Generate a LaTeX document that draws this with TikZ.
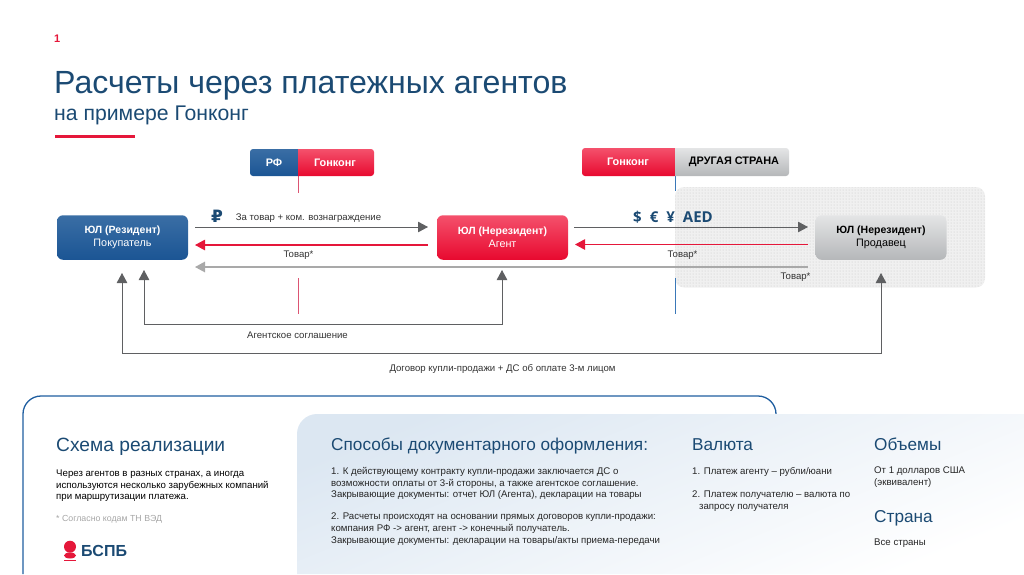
\documentclass[tikz,border=0pt]{standalone}
\usepackage{fontspec}
\setmainfont{Liberation Sans}
\newfontfamily\symfont{DejaVu Sans}
\newfontfamily\curfont{Open Sans}
\usetikzlibrary{arrows.meta,patterns}
\definecolor{navy}{HTML}{1B4A73}
\definecolor{darkarrow}{HTML}{5F6062}
\definecolor{redarrow}{HTML}{E5173A}
\definecolor{greyarrow}{HTML}{A9A9A9}
\definecolor{bluetop}{HTML}{3A6EA5}
\definecolor{bluebot}{HTML}{1B5594}
\definecolor{redtop}{HTML}{F4516C}
\definecolor{redbot}{HTML}{E8092F}
\definecolor{greytop}{HTML}{E4E5E6}
\definecolor{greybot}{HTML}{B5B7B9}
\definecolor{bodytext}{HTML}{333333}
\definecolor{panelblue}{HTML}{DCE7F2}
\definecolor{borderblue}{HTML}{1F5EA0}
\definecolor{splitred}{HTML}{DC5573}
\definecolor{splitblue}{HTML}{3A78B8}
\newcommand{\partyhead}[1]{{\fontsize{10.5}{13}\bfseries\selectfont #1}}
\tikzset{
  bluefill/.style={top color=bluetop,bottom color=bluebot},
  redfill/.style={top color=redtop,bottom color=redbot},
  greyfill/.style={top color=greytop,bottom color=greybot},
  party/.style={rounded corners=6pt,minimum width=131pt,minimum height=44.5pt,inner sep=0pt,align=center,font=\fontsize{10.8}{13}\selectfont},
  head/.style={font=\fontsize{10.9}{12}\bfseries\selectfont,inner sep=0pt},
  lab/.style={font=\fontsize{9.6}{11}\selectfont,text=bodytext,inner sep=0pt},
  tip/.style={-{Triangle[length=10pt,width=10.5pt]}},
  arrowdark/.style={draw=darkarrow,line width=0.9pt,tip},
  arrowred/.style={draw=redarrow,line width=1.1pt,tip},
  arrowgrey/.style={draw=greyarrow,line width=1.3pt,tip},
  heading/.style={font=\fontsize{17.2}{21}\selectfont,text=navy,anchor=base west,inner sep=0pt},
  para/.style={font=\fontsize{9.65}{11.8}\selectfont,text=black!85,anchor=north west,inner sep=0pt,align=left},
}
\begin{document}
\begin{tikzpicture}[x=1pt,y=-1pt]
\useasboundingbox (0,0) rectangle (1024,574);
% title block
\node[anchor=base west,inner sep=0pt,text=redarrow,font=\fontsize{11}{13}\bfseries\selectfont] (num) at (54,42) {1};
\node[anchor=base west,inner sep=0pt,text=navy,font=\fontsize{32.1}{36}\selectfont] (title) at (54,93) {Расчеты через платежных агентов};
\node[anchor=base west,inner sep=0pt,text=navy,font=\fontsize{21.2}{24}\selectfont] (subtitle) at (54,120) {на примере Гонконг};
\fill[redarrow] (55,135) rectangle (135,138);
% dotted zone
\fill[white!94!black,rounded corners=9pt] (675,187) rectangle (985,287.5);
\fill[pattern=dots,pattern color=black!22,rounded corners=9pt] (675,187) rectangle (985,287.5);
% border lines
\draw[splitred,line width=1pt] (298,176) -- (298,193);
\draw[splitred,line width=1pt] (298,278) -- (298,314);
\draw[splitblue,line width=1pt] (675,176) -- (675,191);
\draw[splitblue,line width=1pt] (675,278) -- (675,314);
% header pills
\shade[bluefill] (298,149) [rounded corners=3pt] -- (250,149) -- (250,176) [sharp corners] -- (298,176) -- cycle;
\shade[redfill] (298,149) [rounded corners=3pt] -- (374,149) -- (374,176) [sharp corners] -- (298,176) -- cycle;
\node[head,text=white] (hrf) at (274,163) {РФ};
\node[head,text=white] (hhk) at (335,163) {Гонконг};
\shade[redfill] (675,148) [rounded corners=3pt] -- (582,148) -- (582,176) [sharp corners] -- (675,176) -- cycle;
\shade[greyfill] (675,148) [rounded corners=3pt] -- (789,148) -- (789,176) [sharp corners] -- (675,176) -- cycle;
\node[head,text=white] (hhk2) at (628,162) {Гонконг};
\node[head,text=black] (hother) at (734,162) {ДРУГАЯ СТРАНА};
% parties
\node[party,bluefill,text=white] (buyer) at (122.5,237.5) {\partyhead{ЮЛ (Резидент)}\\Покупатель};
\node[party,redfill,text=white] (agent) at (502.5,237.5) {\partyhead{ЮЛ (Нерезидент)}\\Агент};
\node[party,greyfill,text=black] (seller) at (881,237.5) {\partyhead{ЮЛ (Нерезидент)}\\Продавец};
% connector ends
\coordinate (b1) at (195,227); \coordinate (a1) at (428,227);
\coordinate (b2) at (195,245); \coordinate (a2) at (428,245);
\coordinate (b3) at (195,267); \coordinate (s3) at (808,267);
\coordinate (a4) at (574,227); \coordinate (s4) at (808,227);
\coordinate (a5) at (575,244.5); \coordinate (s5) at (808,244.5);
\draw[arrowdark] (b1) -- (a1);
\draw[arrowred] (a2) -- (b2);
\draw[arrowgrey] (s3) -- (b3);
\draw[arrowdark] (a4) -- (s4);
\draw[arrowred] (s5) -- (a5);
\coordinate (agb) at (144,270); \coordinate (aga) at (502,270);
\coordinate (ag1) at (502,324); \coordinate (ag2) at (144,324);
\coordinate (kb) at (122,273); \coordinate (ks) at (881,273);
\coordinate (k1) at (881,353); \coordinate (k2) at (122,353);
\draw[arrowdark,{Triangle[length=10pt,width=10.5pt]}-{Triangle[length=10pt,width=10.5pt]}] (agb) -- (ag2) -- (ag1) -- (aga);
\draw[arrowdark,{Triangle[length=10pt,width=10.5pt]}-{Triangle[length=10pt,width=10.5pt]}] (kb) -- (k2) -- (k1) -- (ks);
% labels
\node[inner sep=0pt,text=navy,font=\symfont\fontsize{17}{18}\bfseries\selectfont] (rub) at (217,216) {₽};
\node[lab] (l1) at (308.5,218) {За товар + ком. вознаграждение};
\node[lab] (l2) at (298.5,255) {Товар*};
\node[lab] (l3) at (297.5,335.5) {Агентское соглашение};
\node[lab] (l4) at (502.5,368.5) {Договор купли-продажи + ДС об оплате 3-м лицом};
\node[inner sep=0pt,text=navy,font=\curfont\fontsize{15}{18}\bfseries\selectfont] (cur) at (673,217) {\$\hspace{8pt}€\hspace{8pt}¥\hspace{8pt}AED};
\node[lab] (l5) at (682.5,255) {Товар*};
\node[lab] (l6) at (795.5,277.5) {Товар*};
% lower panel
\draw[borderblue,line width=1.3pt,rounded corners=18pt] (23,574) -- (23,396) -- (776,396) -- (776,414.5);
\shade[shading=axis,top color=panelblue,bottom color=white,shading angle=22] (297,574) [rounded corners=20pt] -- (297,414) [sharp corners] -- (1024,414) -- (1024,574) -- cycle;
\node[heading,font=\fontsize{19.2}{22}\selectfont] (h1) at (56,451.5) {Схема реализации};
\node[para,text=black] (p1) at (56,469.5) {Через агентов в разных странах, а иногда\\используются несколько зарубежных компаний\\при маршрутизации платежа.};
\node[para,text=black!35,font=\fontsize{8.8}{11}\selectfont] (p2) at (56,515.5) {* Согласно кодам ТН ВЭД};
\fill[redarrow] (70,546.7) circle (6);
\fill[redarrow] (70,555.5) ellipse (6 and 3);
\fill[redarrow] (64,559.5) rectangle (76,561);
\node[anchor=base west,inner sep=0pt,text=navy,font=\fontsize{16}{18}\bfseries\selectfont] (logo) at (81,556) {БСПБ};
\node[heading] (h2) at (331,450) {Способы документарного оформления:};
\node[para] (p3) at (331,467) {1. К действующему контракту купли-продажи заключается ДС о\\возможности оплаты от 3-й стороны, а также агентское соглашение.\\Закрывающие документы: отчет ЮЛ (Агента), декларации на товары};
\node[para] (p4) at (331,513) {2. Расчеты происходят на основании прямых договоров купли-продажи:\\компания РФ -> агент, агент -> конечный получатель.\\Закрывающие документы: декларации на товары/акты приема-передачи};
\node[heading] (h3) at (692,450) {Валюта};
\node[para] (p5) at (692,467) {1. Платеж агенту – рубли/юани};
\node[para] (p6) at (692,491) {2. Платеж получателю – валюта по\\\hspace*{7pt}запросу получателя};
\node[heading] (h4) at (874,450) {Объемы};
\node[para] (p7) at (874,467) {От 1 долларов США\\(эквивалент)};
\node[heading] (h5) at (874,522) {Страна};
\node[para] (p8) at (874,539) {Все страны};
\end{tikzpicture}
\end{document}
